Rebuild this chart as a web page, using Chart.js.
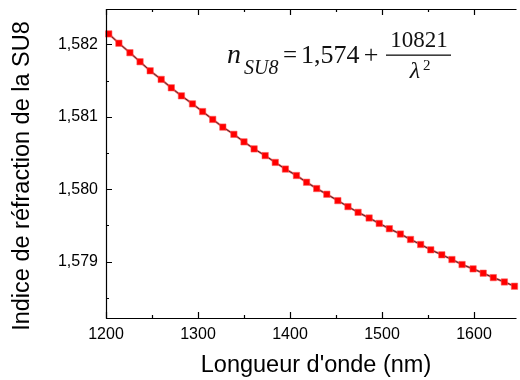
<!DOCTYPE html>
<html>
<head>
<meta charset="utf-8">
<script src="https://cdn.jsdelivr.net/npm/chart.js@4.4.1/dist/chart.umd.min.js"></script>
<style>
  html, body { margin: 0; padding: 0; background: #fff; overflow: hidden; }
  #wrap { width: 520px; height: 380px; position: relative; }
</style>
</head>
<body>
<div id="wrap"><canvas id="c" width="520" height="380"></canvas></div>
<script>
// ---- Data ----
const wavelengths = [1203, 1214, 1226, 1237, 1248, 1260, 1271, 1282, 1294, 1305,
                     1316, 1327, 1339, 1350, 1361, 1373, 1384, 1395, 1407, 1418,
                     1429, 1440, 1452, 1463, 1474, 1486, 1497, 1508, 1520, 1531,
                     1542, 1553, 1565, 1576, 1587, 1599, 1610, 1621, 1633, 1644];
const indexValues = [1.582146, 1.582017, 1.581886, 1.581761, 1.581636, 1.581517, 1.581401, 1.581290, 1.581179, 1.581073,
                     1.580964, 1.580858, 1.580758, 1.580654, 1.580557, 1.580464, 1.580370, 1.580278, 1.580189, 1.580096,
                     1.580009, 1.579930, 1.579842, 1.579759, 1.579680, 1.579602, 1.579527, 1.579454, 1.579380, 1.579305,
                     1.579236, 1.579162, 1.579093, 1.579028, 1.578959, 1.578899, 1.578839, 1.578778, 1.578718, 1.578659];
const xMajorTicks = [1200, 1300, 1400, 1500, 1600];
const xMinorTicks = [1250, 1350, 1450, 1550, 1650];
const yMajorTicks = [1.579, 1.580, 1.581, 1.582];
const yMinorTicks = [1.5785, 1.5795, 1.5805, 1.5815, 1.5825];
const xTitle = "Longueur d'onde (nm)";
const yTitle = "Indice de réfraction de la SU8";

const points = wavelengths.map((w, i) => ({x: w, y: indexValues[i]}));
const FONT = "'Liberation Sans', Arial, sans-serif";

const framePlugin = {
  id: 'frame',
  afterDraw(chart) {
    const {ctx, chartArea: a, scales: {x, y}} = chart;
    ctx.save();
    ctx.strokeStyle = '#000';
    ctx.lineWidth = 1.2;
    ctx.beginPath();
    ctx.moveTo(a.right + 2, a.top + 0.5);
    ctx.lineTo(a.left + 0.5, a.top + 0.5);
    ctx.lineTo(a.left + 0.5, a.bottom + 0.5);
    ctx.lineTo(a.right + 2, a.bottom + 0.5);
    ctx.stroke();
    ctx.beginPath();
    const xt = (vals, len) => vals.forEach(v => {
      const px = Math.round(x.getPixelForValue(v)) + 0.5;
      if (px < a.left || px > a.right + 1) return;
      ctx.moveTo(px, a.bottom); ctx.lineTo(px, a.bottom - len);
      ctx.moveTo(px, a.top); ctx.lineTo(px, a.top + len);
    });
    const yt = (vals, len) => vals.forEach(v => {
      const py = Math.round(y.getPixelForValue(v)) + 0.5;
      if (py < a.top || py > a.bottom) return;
      ctx.moveTo(a.left, py); ctx.lineTo(a.left + len, py);
    });
    xt(xMajorTicks, 6); xt(xMinorTicks, 3);
    yt(yMajorTicks, 6); yt(yMinorTicks, 3);
    ctx.stroke();

    // axis titles
    ctx.fillStyle = '#000';
    ctx.font = '23.5px ' + FONT;
    ctx.textAlign = 'center';
    ctx.textBaseline = 'alphabetic';
    ctx.fillText(xTitle, 316, 372);
    ctx.save();
    ctx.translate(23, 176);
    ctx.rotate(-Math.PI / 2);
    ctx.textBaseline = 'middle';
    ctx.fillText(yTitle, 0, 0);
    ctx.restore();

    // equation
    ctx.fillStyle = '#111';
    ctx.textBaseline = 'alphabetic';
    const serif = "'Liberation Serif', 'Times New Roman', serif";
    ctx.textAlign = 'left';
    ctx.font = 'italic 28px ' + serif;
    ctx.fillText('n', 227, 63);
    ctx.font = 'italic 20px ' + serif;
    ctx.fillText('SU8', 244, 74);
    ctx.font = '25px ' + serif;
    ctx.textAlign = 'center';
    ctx.fillText('=', 290, 63);
    ctx.font = '26px ' + serif;
    ctx.textAlign = 'left';
    ctx.fillText('1,574', 301, 63);
    ctx.textAlign = 'center';
    ctx.font = '26px ' + serif;
    ctx.fillText('+', 371, 63);
    ctx.font = '23px ' + serif;
    ctx.fillText('10821', 419, 47);
    ctx.font = 'italic 24px ' + serif;
    ctx.fillText('λ', 415, 78);
    ctx.font = '15px ' + serif;
    ctx.textAlign = 'left';
    ctx.fillText('2', 423, 70);
    ctx.fillRect(386, 54.5, 65, 1.3);
    ctx.restore();
  }
};

new Chart(document.getElementById('c'), {
  type: 'scatter',
  data: {
    datasets: [
      {
        label: 'points',
        data: points,
        showLine: false,
        pointStyle: 'rect',
        pointRadius: 4.5,
        pointBackgroundColor: '#ff0000',
        pointBorderColor: 'rgba(255,90,90,0.55)',
        pointBorderWidth: 1,
        clip: false,
        order: 0
      },
      {
        label: 'fit',
        data: points,
        showLine: true,
        pointRadius: 0,
        borderColor: '#333333',
        borderWidth: 1,
        order: 1
      },
      {
        label: 'line',
        data: points,
        showLine: true,
        pointRadius: 0,
        borderColor: 'rgba(255,40,40,0.75)',
        borderWidth: 2.2,
        order: 2
      }
    ]
  },
  options: {
    responsive: false,
    animation: false,
    events: [],
    layout: { padding: { top: 9, right: 0, left: 0, bottom: 0 } },
    plugins: { legend: { display: false }, tooltip: { enabled: false } },
    scales: {
      x: {
        type: 'linear',
        min: 1200,
        max: 1644,
        afterBuildTicks: s => { s.ticks = xMajorTicks.map(v => ({value: v})); },
        afterFit: s => { s.height = 62; s.paddingLeft = 0; s.paddingRight = 0; },
        grid: { display: false, drawTicks: false },
        border: { display: false },
        ticks: {
          autoSkip: false, maxRotation: 0, padding: 7,
          color: '#000', font: { family: FONT, size: 16 },
          callback: v => String(v)
        },
        title: { display: false }
      },
      y: {
        type: 'linear',
        min: 1.57822,
        max: 1.58249,
        afterBuildTicks: s => { s.ticks = yMajorTicks.map(v => ({value: v})); },
        afterFit: s => { s.width = 106; s.paddingTop = 0; s.paddingBottom = 0; },
        grid: { display: false, drawTicks: false },
        border: { display: false },
        ticks: {
          autoSkip: false, padding: 8,
          color: '#000', font: { family: FONT, size: 16 },
          callback: v => v.toFixed(3).replace('.', ',')
        },
        title: { display: false }
      }
    }
  },
  plugins: [framePlugin]
});
</script>
</body>
</html>
